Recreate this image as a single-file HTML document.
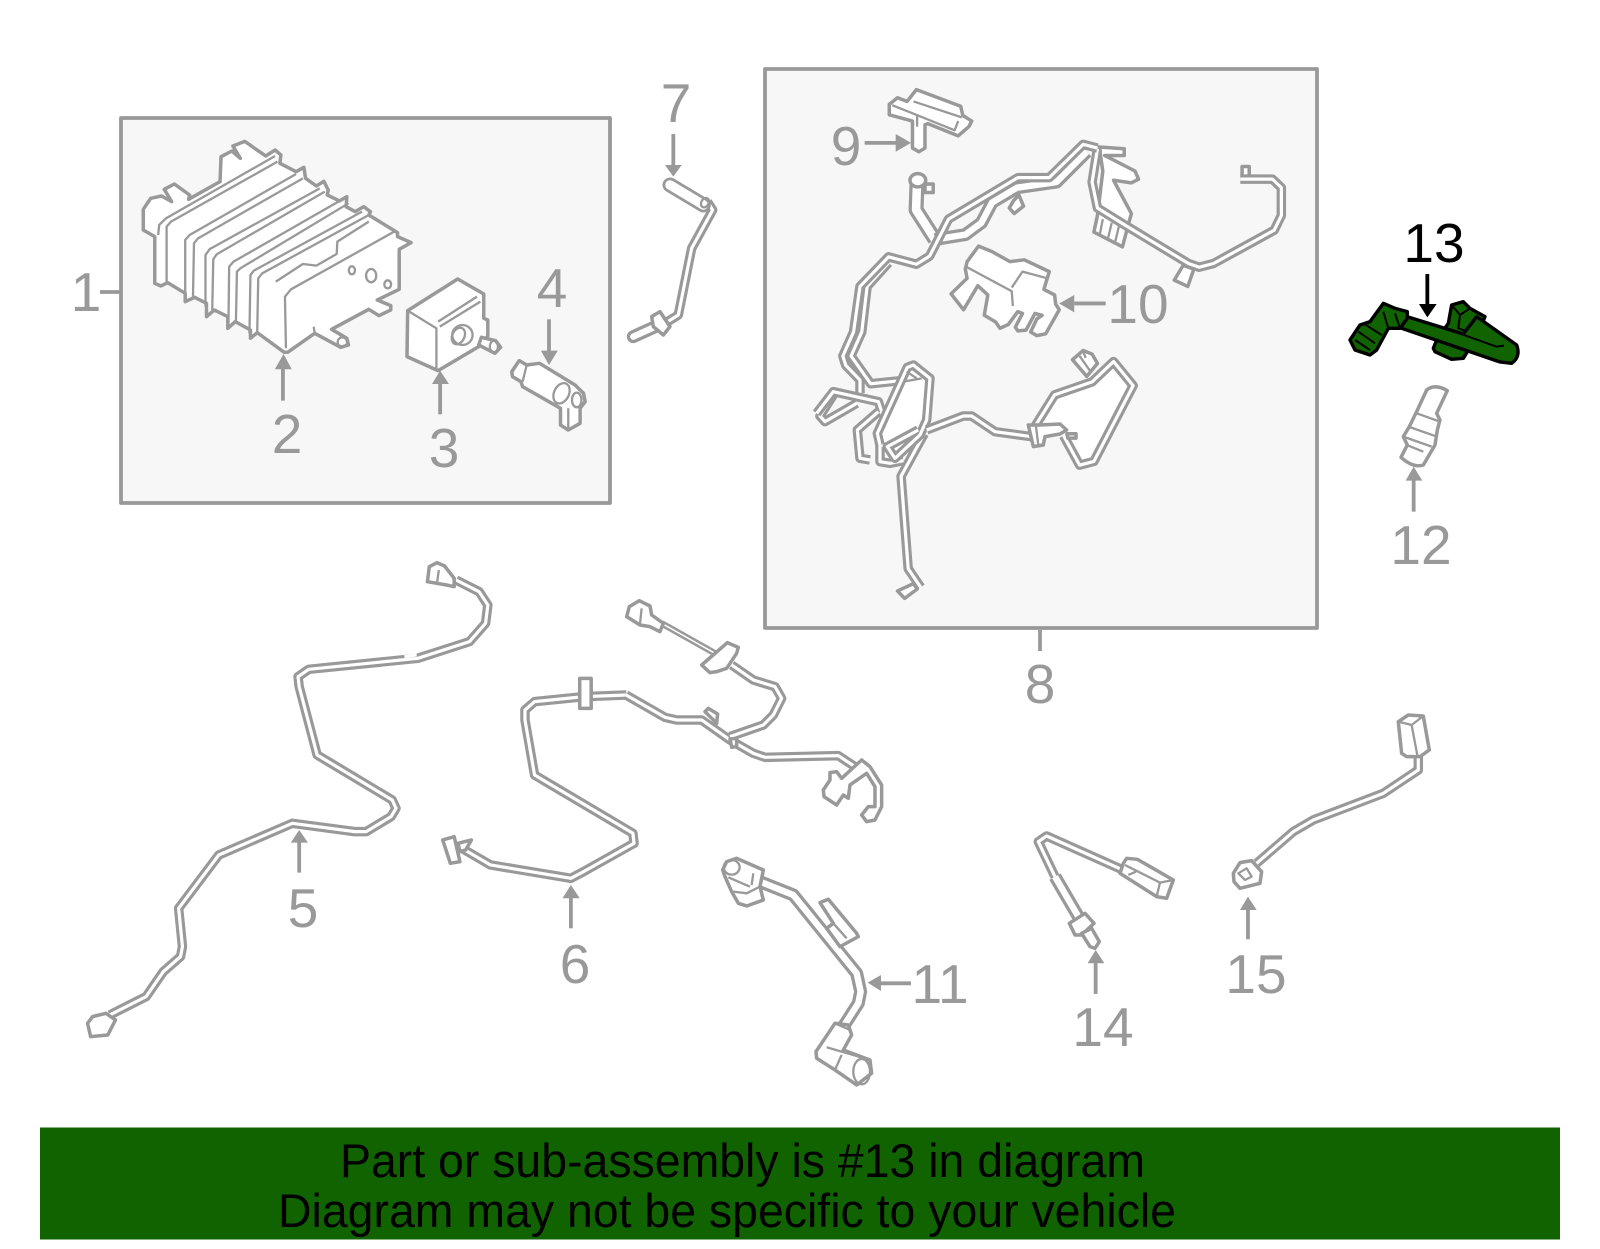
<!DOCTYPE html>
<html><head><meta charset="utf-8"><style>
html,body{margin:0;padding:0;background:#fff}
svg{display:block}
path,polygon,polyline,line,ellipse,rect,circle{vector-effect:non-scaling-stroke;stroke-linejoin:round}
.g{stroke:#999;fill:#fff;stroke-width:3.5}
.n{stroke:#999;fill:none;stroke-width:2.3}
.l{stroke:#999;fill:none;stroke-width:3.8}
.a{fill:#999;stroke:none}
.o{stroke:#999;fill:none;stroke-width:9.5}
.i{stroke:#fff;fill:none;stroke-width:3.2}
.O{stroke:#999;fill:none;stroke-width:13}
.I{stroke:#fff;fill:none;stroke-width:6.4}
.r{stroke-linecap:round}
text{font-family:"Liberation Sans",sans-serif}
.t{font-size:55px;fill:#999;text-anchor:middle}
</style></head><body>
<svg width="1600" height="1249" viewBox="0 0 1600 1249" xmlns="http://www.w3.org/2000/svg">
<defs>
<path id="p5" d="M1035,90 L1095,125 L1118,165 L1112,220 L1070,275 L935,325 L650,358 L622,380 L625,410 L672,615 L868,750 L878,775 L865,800 L800,845 L770,845 L607,820 L415,915 L310,1075 L320,1190 L315,1220 L270,1265 L225,1340 L130,1395"/>
<path id="p6a" d="M1050,895 L1125,945 L1335,985 L1368,965 L1500,880 L1497,850 L1240,675 L1215,510 L1215,480 L1240,455 L1370,440 L1480,435"/>
<path id="p6b" d="M78,315 L195,382 L230,390 L305,390 L390,450 L460,490 L495,502 L715,497 L780,540"/>
<path id="p6c" d="M395,225 L460,270 L525,290 L545,325 L520,375 L490,405 L390,440"/>
<path id="p7" d="M262,395 L278,420 L215,535 L175,735 L135,760"/>
<path id="p7b" d="M150,345 L250,405"/>
<path id="p7c" d="M40,800 L110,768"/>
<path id="p11" d="M480,875 L580,915 L770,1150 L782,1205 L775,1240 L730,1310"/>
<path id="p14" d="M350,515 L110,408 L85,425 L135,530"/>
<path id="p14b" d="M135,530 L205,650"/>
<path id="p15" d="M740,490 L850,395 L910,360 L1120,280 L1225,210 L1225,170"/>
<path id="h1" d="M945,238 L905,228 L810,318 L722,318 L528,430 L475,530 L438,552 L360,532 L280,612 L262,735 L232,800 L240,825 L280,865 L280,900"/>
<path id="h1b" d="M360,548 L300,612 L285,735 L255,800 L310,875 L440,862"/>
<path id="h3a" d="M440,325 L437,405 L490,485"/>
<path id="h3" d="M490,485 L575,472 L620,440 L650,385 L720,345 L830,330 L915,248"/>
<path id="h4" d="M945,240 L930,330 L945,400 L1020,445 L1200,550 L1230,560 L1270,550 L1440,460 L1460,420 L1460,345 L1435,322 L1345,322"/>
<path id="m5" d="M50,250 L100,185 L235,215 L245,245"/>
<path id="m6" d="M100,195 L60,258 L75,275 L170,220"/>
<path id="m7" d="M235,245 L172,300 L180,385 L210,390"/>
<path id="m7b" d="M240,340 L240,395 L270,400 L310,392"/>
<path id="m8" d="M240,345 L232,310 L322,112 L340,105 L390,145 L380,270 L360,315 L285,385 L262,350 L355,300"/>
<path id="m9" d="M380,300 L490,258 L515,258 L585,305 L695,320"/>
<path id="h10" d="M850,1015 L895,1095 L935,1085 L1045,880 L990,815 L930,870 L825,905 L770,990"/>
<path id="h11" d="M460,1010 L395,1125 L415,1375 L450,1425"/>
</defs>

<rect width="1600" height="1249" fill="#fff"/>
<rect x="121" y="118" width="489" height="385" fill="#f7f7f7" stroke="#999" stroke-width="3.8"/>
<rect x="765" y="69" width="552" height="559" fill="#f7f7f7" stroke="#999" stroke-width="3.8"/>
<line x1="100" y1="292" x2="121" y2="292" class="l"/>
<line x1="1040" y1="630" x2="1040" y2="651" class="l"/>

<!-- parts 2,3,4 -->
<g transform="translate(100,100) scale(.3381,.3333)">
<polygon class="g" points="128,328 150,295 182,288 212,305 190,268 220,252 265,285 262,298 355,245 358,170 390,153 415,175 393,138 428,124 490,168 518,150 535,165 532,190 580,215 603,202 608,235 640,258 662,244 675,270 672,285 708,303 730,290 728,320 755,335 780,320 800,335 795,345 880,398 880,410 920,428 885,448 885,568 820,600 860,617 860,630 825,647 795,628 685,688 730,715 735,735 712,742 635,700 555,757 545,757 465,698 445,715 445,690 400,665 378,685 378,650 338,630 315,650 315,610 280,592 252,605 252,580 200,548 180,558 162,550 162,410 128,390"/>
<path class="n" d="M172,405 L175,375 L195,355 L518,168 M197,545 L197,380 L210,365 L525,185 M252,580 L252,420 L265,405 L580,222 M275,590 L278,430 L290,415 L600,235 M312,620 L312,465 L325,447 L650,265 M332,630 L335,478 L345,463 L665,275 M380,670 L382,500 L395,485 L722,295 M402,665 L405,515 L415,505 L735,310 M442,700 L445,525 L455,512 L775,335 M465,695 L468,535 L480,520 L795,345 M520,545 L600,492 L640,497 L700,462 L702,425 L795,365 M550,745 L547,590 L565,568 L870,395 M635,700 L632,680"/>
<ellipse class="n" cx="745" cy="511" rx="9" ry="12"/><ellipse class="n" cx="802" cy="527" rx="15" ry="20"/><ellipse class="n" cx="851" cy="553" rx="10" ry="12"/>
<ellipse class="n" cx="717" cy="726" rx="14" ry="14"/>
<polygon class="g" points="910,632 1058,537 1135,582 1135,655 1147,660 1147,708 1120,740 1000,812 908,770"/>
<path class="n" d="M910,632 L995,685 L995,810 M1000,665 L1115,590 M1005,680 L1125,605"/>
<ellipse class="n" cx="1072" cy="705" rx="30" ry="30"/><ellipse class="n" cx="1060" cy="708" rx="18" ry="26" transform="rotate(25 1060 708)"/>
<polygon class="g" points="1128,712 1170,722 1185,742 1168,760 1120,735"/>
<ellipse class="n" cx="1165" cy="740" rx="12" ry="18"/>
<polygon class="g" points="1218,815 1240,782 1262,795 1300,790 1405,855 1430,880 1435,905 1420,925 1420,970 1385,990 1362,975 1362,925 1250,860 1245,845 1220,830"/>
<path class="n" d="M1262,795 L1250,845 M1385,925 L1385,985"/>
<ellipse class="n" cx="1365" cy="880" rx="22" ry="32" transform="rotate(25 1365 880)"/><ellipse class="n" cx="1410" cy="900" rx="14" ry="22"/>
<line class="l" x1="541" y1="800" x2="541" y2="902"/><polygon class="a" points="543,762 517,808 567,808"/>
<line class="l" x1="1006" y1="850" x2="1006" y2="943"/><polygon class="a" points="1006,812 982,852 1032,852"/>
<line class="l" x1="1328" y1="658" x2="1328" y2="760"/><polygon class="a" points="1328,795 1304,752 1354,752"/>
</g>

<!-- harness 8 -->
<g transform="translate(760,60) scale(.3571,.37)">
<polygon class="g" points="362,120 385,102 412,112 438,80 562,125 568,150 593,165 585,180 555,205 470,172 462,175 462,238 445,248 427,238 427,165 362,148"/>
<path class="n" d="M430,112 L565,155 M370,122 L430,145 L545,190 L555,165 M440,150 L440,180"/>
<line class="l" x1="293" y1="224" x2="385" y2="224"/><polygon class="a" points="423,224 380,200 380,248"/>
<polygon class="g" points="950,235 1020,240 1020,258 965,258 1050,300 1060,322 1040,332 990,325 1040,415 1030,450 1015,505 935,465 945,420 960,300"/>
<path class="n" d="M960,430 L952,470 M985,440 L975,480 M1005,450 L995,490"/>
<polygon class="g" points="1185,555 1160,595 1198,612 1215,565"/>
<rect class="g" x="1350" y="288" width="20" height="28"/>
<polygon class="g" points="710,380 698,400 712,415 738,395 725,365"/>
<polygon class="g" points="462,335 485,335 485,358 462,358"/>
<use href="#h3a" class="O" style="stroke-width:15"/><use href="#h3a" class="I" style="stroke-width:8.500"/>
<use href="#h3" class="O"/><use href="#h3" class="I"/>
<ellipse class="g" cx="442" cy="325" rx="22" ry="18"/>
<use href="#h4" class="o"/><use href="#h4" class="i"/>
<use href="#h1b" class="o"/><use href="#h1b" class="i"/>
<use href="#h1" class="o"/><use href="#h1" class="i"/>
<polygon points="850,1015 895,1095 935,1085 1045,880 990,815 930,870 825,905 770,990" fill="#fff"/>
<polygon class="g" points="875,810 905,785 930,795 945,820 915,855"/>
<path class="n" d="M895,800 L928,845 M905,788 L912,805"/>
<use href="#h10" class="o"/><use href="#h10" class="i"/>
<polygon class="g" points="860,1010 885,1010 885,1022 862,1022"/>
<use href="#h11" class="o"/><use href="#h11" class="i"/>
<polygon class="g" points="385,1435 430,1415 440,1430 405,1455"/>
<polygon class="g" points="580,545 612,503 650,518 700,545 740,540 810,572 795,620 825,635 828,660 838,675 800,740 775,745 758,735 775,700 790,690 770,685 745,730 722,732 715,722 735,685 722,680 695,715 672,725 660,708 628,690 638,635 610,610 570,675 535,632 580,590 575,565"/>
<path class="n" d="M580,560 L705,625 L708,665 M705,615 L735,572 L805,590"/>
<line class="l" x1="880" y1="658" x2="968" y2="658"/><polygon class="a" points="838,658 880,635 880,682"/>
</g>

<!-- knot at lower-left of harness -->
<g transform="translate(800,330) scale(.3333)">
<use href="#m6" class="o"/><use href="#m6" class="i"/>
<use href="#m5" class="o"/><use href="#m5" class="i"/>
<use href="#m7" class="o"/><use href="#m7" class="i"/>
<use href="#m7b" class="o"/><use href="#m7b" class="i"/>
<polygon points="240,345 232,310 322,112 340,105 390,145 380,270 360,315 285,385" fill="#fff"/>
<use href="#m8" class="o"/><use href="#m8" class="i"/>
<path class="n" d="M310,155 L365,145 M320,125 L350,145"/>
<use href="#m9" class="o"/><use href="#m9" class="i"/>
<polygon class="g" points="685,285 720,285 780,282 800,300 780,312 735,320 730,345 700,350"/>
<path class="n" d="M708,290 L715,345"/>
</g>

<!-- part 7 -->
<g transform="translate(620,70) scale(.3333)">
<line class="l" x1="160" y1="192" x2="160" y2="290"/>
<use href="#p7" class="o"/><use href="#p7" class="i"/>
<use href="#p7b" class="O r" style="stroke-width:15"/><use href="#p7b" class="I r" style="stroke-width:9.500"/>
<ellipse class="n" cx="255" cy="398" rx="11" ry="15" transform="rotate(30 255 398)"/>
<use href="#p7c" class="O r" style="stroke-width:13"/><use href="#p7c" class="I r"/>
<polygon class="g" points="95,740 120,725 150,770 130,795 100,770"/>
<polygon class="a" points="160,320 135,285 185,285"/>
</g>

<!-- parts 12, 13 -->
<g transform="translate(1320,200) scale(.3333)">
<line x1="322" y1="222" x2="322" y2="320" stroke="#000" stroke-width="3.8"/>
<polygon fill="#116300" stroke="#000" stroke-width="3.4" points="340,445 350,420 385,370 395,315 430,305 450,325 495,350 470,410 430,475 395,478 345,455"/>
<path fill="none" stroke="#000" stroke-width="2" d="M395,315 L420,345 L450,325 M420,345 L415,385 L470,405"/>
<path fill="#116300" stroke="#000" stroke-width="3.4" d="M245,345 L375,385 L430,402 L470,350 L590,435 Q603,470 575,490 L540,486 L245,385 Z"/>
<path fill="none" stroke="#000" stroke-width="2" d="M375,385 L530,440 L552,437"/>
<polygon fill="#116300" stroke="#000" stroke-width="3.4" points="90,420 120,375 150,365 190,310 225,325 262,335 262,355 240,385 205,385 170,450 150,465 105,450"/>
<path fill="none" stroke="#000" stroke-width="2" d="M115,395 L165,430 M105,420 L150,450 M190,335 L205,385 M225,340 L240,385 M130,370 L185,405"/>
<path class="g" d="M320,570 Q345,550 382,572 L350,640 L360,660 L352,690 L345,735 L310,795 Q280,805 243,772 L262,735 L250,710 L268,680 L290,635 Z"/>
<path class="n" d="M290,640 L360,665 M265,680 L345,708 M250,710 L335,740 M260,735 L310,755"/>
<line class="l" x1="281" y1="840" x2="281" y2="935"/><polygon class="a" points="281,800 257,842 307,842"/>
<polygon class="a" fill="#000" style="fill:#000" points="322,352 297,312 350,312"/>
</g>

<!-- parts 5, 6 lower -->
<g transform="translate(60,550) scale(.3827,.3333)">
<use href="#p5" class="o"/><use href="#p5" class="i"/>
<line x1="900" y1="320" x2="932" y2="315" stroke="#fff" stroke-width="3"/>
<polygon class="g" points="960,95 965,50 985,38 1005,48 1030,85 1030,110 1010,105"/>
<path class="n" d="M990,60 L985,100"/>
<polygon class="g" points="72,1420 85,1400 120,1390 145,1410 125,1455 80,1460"/>
<line class="l" x1="625" y1="875" x2="625" y2="968"/><polygon class="a" points="625,840 603,878 648,878"/>
<use href="#p6a" class="o"/><use href="#p6a" class="i"/>
<rect class="g" x="1358" y="385" width="30" height="90"/>
<polygon class="g" points="1040,880 1075,870 1060,900 1045,905"/>
<polygon class="g" points="1000,870 1030,860 1045,935 1020,940"/>
<line class="l" x1="1335" y1="1040" x2="1335" y2="1135"/><polygon class="a" points="1335,1005 1313,1045 1358,1045"/>
</g>

<g transform="translate(600,590) scale(.3333)">
<use href="#p6b" class="o"/><use href="#p6b" class="i"/>
<polygon class="g" points="315,365 325,355 353,372 350,400"/>
<use href="#p6c" class="o"/><use href="#p6c" class="i"/>
<line class="o" x1="185" y1="100" x2="345" y2="190" style="stroke-width:6.500"/><line x1="185" y1="100" x2="345" y2="190" stroke="#fff" stroke-width="1.5"/>
<polygon class="g" points="80,80 88,50 118,32 150,48 155,75 190,100 180,125 150,110 120,105"/>
<path class="n" d="M125,55 L120,100"/>
<polygon class="g" points="305,225 382,158 415,172 410,190 380,235 350,245 330,248"/>
<polygon class="g" points="390,447 410,445 410,470 395,472"/>
<polygon class="g" points="670,600 690,570 690,548 710,545 725,565 785,510 810,530 845,585 845,650 825,690 800,695 785,675 805,650 825,650 825,590 800,550 750,585 745,625 730,615 710,645 672,620"/>
<!-- part 11 -->
<use href="#p11" class="O"/><use href="#p11" class="I"/>
<polygon class="g" points="660,938 685,928 770,1030 775,1040 720,1070 680,1015 700,1000"/>
<path class="n" d="M680,1015 L700,1000 L740,1045"/>
<polygon class="g" points="368,840 380,815 410,805 490,840 480,890 490,930 440,948 415,940 395,905 375,860"/>
<ellipse class="n" cx="395" cy="832" rx="24" ry="22"/>
<path class="n" d="M385,862 L450,890 M400,905 L440,910 L480,890 M460,850 L455,885"/>
<polygon class="g" points="648,1385 705,1300 745,1305 755,1335 730,1380 810,1410 815,1450 770,1485 705,1440 650,1405"/>
<path class="n" d="M680,1372 L810,1410 M725,1395 L705,1440 M705,1300 L750,1320"/>
<ellipse class="n" cx="785" cy="1445" rx="25" ry="38"/>
<line class="l" x1="838" y1="1180" x2="933" y2="1180"/><polygon class="a" points="803,1178 843,1155 843,1203"/>
</g>

<!-- parts 14, 15 -->
<g transform="translate(1010,700) scale(.3333)">
<use href="#p14" class="o"/><use href="#p14" class="i"/>
<use href="#p14b" class="O"/><use href="#p14b" class="I"/>
<polygon class="g" points="340,490 350,475 382,478 490,540 470,595 440,590 330,520"/>
<path class="n" d="M440,590 L450,548 L490,540 M345,495 L450,548 M378,515 L355,525"/>
<polygon class="g" points="178,670 225,640 252,670 215,705 195,705"/>
<polygon class="g" points="215,700 245,685 268,725 255,745 240,740"/>
<line class="l" x1="257" y1="785" x2="257" y2="882"/><polygon class="a" points="257,750 233,790 283,790"/>
<use href="#p15" class="o"/><use href="#p15" class="i"/>
<polygon class="g" points="1165,65 1195,45 1240,48 1258,150 1230,170 1190,170 1175,160"/>
<path class="n" d="M1165,65 L1205,75 L1240,48 M1205,75 L1222,165"/>
<polygon class="g" points="670,520 690,488 725,482 755,515 750,550 690,565 672,545"/>
<path class="n" d="M685,520 L710,505 L725,530 L705,540 Z"/>
<line class="l" x1="714" y1="625" x2="714" y2="718"/><polygon class="a" points="714,590 690,630 740,630"/>
</g>

<text class="t" x="86" y="311">1</text>
<text class="t" x="287" y="453">2</text>
<text class="t" x="444" y="467">3</text>
<text class="t" x="552" y="307">4</text>
<text class="t" x="303" y="927">5</text>
<text class="t" x="575" y="983">6</text>
<text class="t" x="676" y="122">7</text>
<text class="t" x="1040" y="703">8</text>
<text class="t" x="846" y="165">9</text>
<text class="t" x="1138" y="323">10</text>
<text class="t" x="940" y="1003">11</text>
<text class="t" x="1421" y="564">12</text>
<text class="t" x="1434" y="262" style="fill:#000">13</text>
<text class="t" x="1103" y="1046">14</text>
<text class="t" x="1256" y="993">15</text>

<rect x="40" y="1127.500" width="1520" height="112" fill="#116300"/>
<text x="340" y="1177" font-size="47" fill="#000" textLength="805" lengthAdjust="spacingAndGlyphs">Part or sub-assembly is #13 in diagram</text>
<text x="278" y="1227" font-size="47" fill="#000" textLength="898" lengthAdjust="spacingAndGlyphs">Diagram may not be specific to your vehicle</text>
</svg>
</body></html>
